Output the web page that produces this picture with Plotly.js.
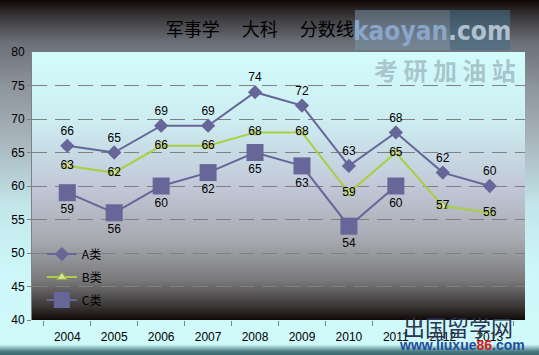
<!DOCTYPE html>
<html>
<head>
<meta charset="utf-8">
<script src="https://cdn.plot.ly/plotly-3.0.1.min.js"></script>
<style>
html,body{margin:0;padding:0;}
#chart{width:539px;height:355px;background:linear-gradient(to bottom,#100808 0%,#3c3a3c 5%,#6c7078 12%,#8e969e 25%,#a9b6bd 40%,#c2e6ea 58%,#ccf6f8 75%,#d0fafa 97%,#4a7a80 99%,#3a6a70 100%);}
</style>
</head>
<body>
<div id="chart"></div>
<script>
const years = ['2004','2005','2006','2007','2008','2009','2010','2011','2012','2013'];
const seriesA = [66,65,69,69,74,72,63,68,62,60];
const seriesB = [63,62,66,66,68,68,59,65,57,56];
const seriesC = [59,56,60,62,65,63,54,60,null,null];
const names = ['A类','B类','C类'];

const plotGrad = '<svg xmlns="http://www.w3.org/2000/svg" width="100" height="100" preserveAspectRatio="none"><defs><linearGradient id="g" x1="0" y1="0" x2="0" y2="1">'
 + '<stop offset="0" stop-color="#d2fcfc"/><stop offset="0.25" stop-color="#cdeef2"/><stop offset="0.5" stop-color="#c2c8d8"/>'
 + '<stop offset="0.7" stop-color="#a8aab0"/><stop offset="0.85" stop-color="#7a7a7c"/><stop offset="0.95" stop-color="#3a3636"/><stop offset="1" stop-color="#100808"/>'
 + '</linearGradient></defs><rect width="100" height="100" fill="url(#g)"/></svg>';

const lbl = {family:'Liberation Sans, Arial, sans-serif', size:12, color:'#000'};

const traces = [
  {x:years, y:seriesA, name:names[0], legendgroup:'a', type:'scatter', mode:'lines+markers+text',
   text:seriesA.map(String), textposition:'top center', textfont:lbl,
   line:{color:'#666699', width:2}, marker:{symbol:'diamond', size:11, color:'#666699'}},
  {x:years, y:seriesB, name:names[1], legendgroup:'b', type:'scatter', mode:'lines+markers+text',
   text:seriesB.map(String), textposition:'middle center', textfont:lbl,
   line:{color:'#a8d040', width:2}, marker:{symbol:'triangle-up', size:9, color:'#d8e0a0', line:{color:'#90b030', width:1}}},
  {x:years, y:seriesC, name:names[2], legendgroup:'c', type:'scatter', mode:'lines+markers+text',
   text:seriesC.map(v => v==null ? '' : String(v)), textposition:'bottom center', textfont:lbl,
   line:{color:'#666699', width:2}, marker:{symbol:'square', size:17, color:'#666699'}}
];

const layout = {
  width:539, height:355,
  margin:{l:32, r:14, t:52, b:35},
  paper_bgcolor:'rgba(0,0,0,0)', plot_bgcolor:'rgba(0,0,0,0)',
  title:{text:'军事学　 大科　 分数线', x:0.482, xanchor:'center', y:0.915, yanchor:'middle',
         font:{family:'Noto Sans CJK SC, sans-serif', size:18, color:'#000'}},
  showlegend:true,
  legend:{x:0.02, xanchor:'left', y:0.30, yanchor:'top', bgcolor:'rgba(0,0,0,0)',
          font:{family:'Noto Sans CJK SC, sans-serif', size:12, color:'#000'}, tracegroupgap:4},
  xaxis:{type:'category', tickson:'boundaries', ticks:'outside', ticklen:5, tickcolor:'#808080',
         ticklabelstandoff:8,
         showline:false, showgrid:false, zeroline:false,
         tickfont:{family:'Liberation Sans, Arial, sans-serif', size:12, color:'#000'}},
  yaxis:{range:[40,80], dtick:5, ticks:'outside', ticklen:4, tickcolor:'#808080',
         showline:true, linecolor:'#808080', linewidth:1,
         showgrid:true, gridcolor:'#808080', gridwidth:1, griddash:'15px,8px', zeroline:false,
         tickfont:{family:'Liberation Sans, Arial, sans-serif', size:12, color:'#000'}},
  images:[{source:'data:image/svg+xml;charset=utf-8,' + encodeURIComponent(plotGrad),
           xref:'paper', yref:'paper', x:0, y:1, sizex:1, sizey:1, sizing:'stretch',
           xanchor:'left', yanchor:'top', layer:'below'}],
  shapes:[
    {type:'rect', xref:'paper', yref:'paper', x0:0.655, x1:0.848, y0:1.0075, y1:1.157,
     fillcolor:'rgba(120,145,165,0.55)', line:{width:0}, layer:'above'},
    {type:'rect', xref:'paper', yref:'paper', x0:0.848, x1:0.970, y0:1.0075, y1:1.157,
     fillcolor:'rgba(70,110,135,0.6)', line:{width:0}, layer:'above'}
  ],
  annotations:[
    {text:'<b><span style="color:#8aa6c8">kaoyan</span><span style="color:#b0c0cc">.com</span></b>', xref:'paper', yref:'paper',
     x:0.812, y:1.08, xanchor:'center', yanchor:'middle', showarrow:false,
     font:{family:'DejaVu Sans Condensed, DejaVu Sans, sans-serif', size:26, color:'#a0b8cc'}},
    {text:'<b>考 研 加 油 站</b>', xref:'paper', yref:'paper', x:0.838, y:0.933, xanchor:'center', yanchor:'middle', showarrow:false,
     font:{family:'Noto Sans CJK SC, sans-serif', size:24, color:'rgba(150,175,185,0.7)'}},
    {text:'出国留学网', xref:'paper', yref:'paper', x:0.864, y:-0.022, xanchor:'center', yanchor:'middle', showarrow:false,
     font:{family:'Noto Sans CJK SC, sans-serif', size:22, color:'#2a3550'}},
    {text:'<b>www.liuxue<span style="color:#d02020">86</span>.com</b>', xref:'paper', yref:'paper', x:0.873, y:-0.093,
     xanchor:'center', yanchor:'middle', showarrow:false,
     font:{family:'Liberation Sans, Arial, sans-serif', size:14, color:'#1d4f9c'}}
  ]
};

Plotly.newPlot('chart', traces, layout, {displayModeBar:false, staticPlot:true});
</script>
</body>
</html>
